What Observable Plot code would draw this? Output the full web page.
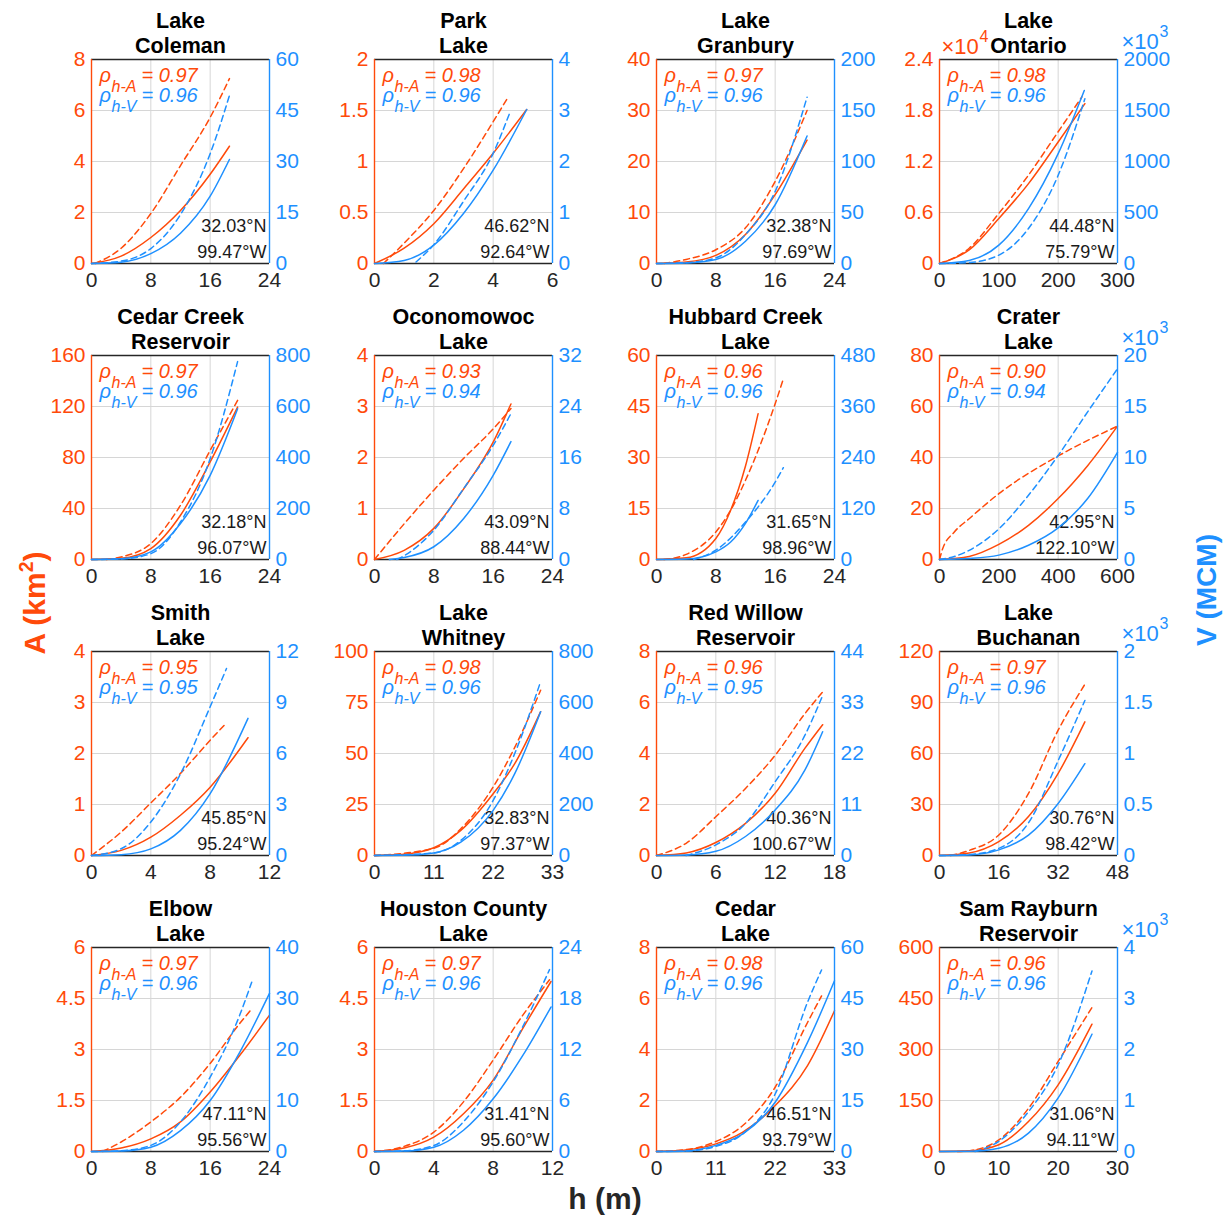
<!DOCTYPE html>
<html><head><meta charset="utf-8">
<script src="https://cdn.jsdelivr.net/npm/d3@7"></script>
<script src="https://cdn.jsdelivr.net/npm/@observablehq/plot@0.6"></script>
<style>
body{margin:0;background:#fff;}
#chart{position:relative;width:1224px;height:1217px;overflow:hidden;font-family:"Liberation Sans",Arial,sans-serif;background:#fff;}
#chart svg{position:absolute;}
.lab{position:absolute;font-weight:bold;white-space:nowrap;transform:translate(-50%,-50%);}
.rot{transform:translate(-50%,-50%) rotate(-90deg);}
</style></head><body><div id="chart"></div>
<script>
const lakeTitles = ["Lake\nColeman","Park\nLake","Lake\nGranbury","Lake\nOntario",
  "Cedar Creek\nReservoir","Oconomowoc\nLake","Hubbard Creek\nLake","Crater\nLake",
  "Smith\nLake","Lake\nWhitney","Red Willow\nReservoir","Lake\nBuchanan",
  "Elbow\nLake","Houston County\nLake","Cedar\nLake","Sam Rayburn\nReservoir"];
const latitudes = ["32.03°N","46.62°N","32.38°N","44.48°N","32.18°N","43.09°N","31.65°N","42.95°N",
  "45.85°N","32.83°N","40.36°N","30.76°N","47.11°N","31.41°N","46.51°N","31.06°N"];
const longitudes = ["99.47°W","92.64°W","97.69°W","75.79°W","96.07°W","88.44°W","98.96°W","122.10°W",
  "95.24°W","97.37°W","100.67°W","98.42°W","95.56°W","95.60°W","93.79°W","94.11°W"];
const rhoA = ["0.97","0.98","0.97","0.98","0.97","0.93","0.96","0.90","0.95","0.98","0.96","0.97","0.97","0.97","0.98","0.96"];
const rhoV = ["0.96","0.96","0.96","0.96","0.96","0.94","0.96","0.94","0.95","0.96","0.95","0.96","0.96","0.96","0.96","0.96"];
const xTicks = [[0,8,16,24],[0,2,4,6],[0,8,16,24],[0,100,200,300],
  [0,8,16,24],[0,8,16,24],[0,8,16,24],[0,200,400,600],
  [0,4,8,12],[0,11,22,33],[0,6,12,18],[0,16,32,48],
  [0,8,16,24],[0,4,8,12],[0,11,22,33],[0,10,20,30]];
const aTicks = [[0,2,4,6,8],[0,0.5,1,1.5,2],[0,10,20,30,40],[0,0.6,1.2,1.8,2.4],
  [0,40,80,120,160],[0,1,2,3,4],[0,15,30,45,60],[0,20,40,60,80],
  [0,1,2,3,4],[0,25,50,75,100],[0,2,4,6,8],[0,30,60,90,120],
  [0,1.5,3,4.5,6],[0,1.5,3,4.5,6],[0,2,4,6,8],[0,150,300,450,600]];
const vTicks = [[0,15,30,45,60],[0,1,2,3,4],[0,50,100,150,200],[0,500,1000,1500,2000],
  [0,200,400,600,800],[0,8,16,24,32],[0,120,240,360,480],[0,5,10,15,20],
  [0,3,6,9,12],[0,200,400,600,800],[0,11,22,33,44],[0,0.5,1,1.5,2],
  [0,10,20,30,40],[0,6,12,18,24],[0,15,30,45,60],[0,1,2,3,4]];
const aExponent = [null,null,null,"4",null,null,null,null,null,null,null,null,null,null,null,null];
const vExponent = [null,null,null,"3",null,null,null,"3",null,null,null,"3",null,null,null,"3"];

// [h (m), value] pairs
const areaSolid = [
  [[0,0],[4,0.29],[8,1.02],[12,2.08],[16,3.5],[18.6,4.6]],
  [[0,0],[1,0.15],[2,0.39],[3,0.73],[4,1.08],[5.13,1.51]],
  [[0,0],[4,0.3],[8,1.6],[12,5.7],[16,13.5],[20.3,24.2]],
  [[0,0],[50,0.16],[100,0.53],[150,0.94],[200,1.43],[245,1.88]],
  [[0,0],[4,1],[8,8.6],[12,34.7],[16,76.5],[19.7,119.5]],
  [[0,0],[4,0.18],[8,0.61],[12,1.38],[16,2.3],[18.4,3.05]],
  [[0,0],[4,0.5],[8,6.2],[10,14.5],[12,27.5],[13.7,42.9]],
  [[0,0],[100,1.2],[200,5.9],[300,13.4],[400,23.9],[500,36.9],[600,52.3]],
  [[0,0],[2,0.1],[4,0.36],[6,0.79],[8,1.34],[10.55,2.31]],
  [[0,0],[5,0.5],[11,3.8],[16,12.3],[22,30.3],[26,45],[30.8,70.5]],
  [[0,0],[3,0.1],[6,0.51],[9,1.26],[12,2.44],[15,4.2],[16.8,5.13]],
  [[0,0],[8,1.5],[16,8.2],[24,22.9],[32,48.3],[39.2,78.6]],
  [[0,0],[4,0.1],[8,0.37],[12,0.87],[16,1.75],[20,2.83],[24,4.01]],
  [[0,0],[2,0.1],[4,0.42],[6,1.11],[8,2.1],[10,3.62],[11.9,5.0]],
  [[0,0],[5,0.05],[11,0.3],[16,0.76],[22,1.8],[28,3.37],[33,5.52]],
  [[0,0],[5,2],[10,20],[15,88],[20,196],[25.7,374.5]]
];
const areaDashed = [
  [[0.5,0],[4,0.6],[8,1.96],[12,3.84],[16,5.73],[18.6,7.25]],
  [[0.3,0],[1,0.2],[2,0.52],[3,0.93],[4,1.39],[4.48,1.62]],
  [[1,0],[4,0.8],[8,2.7],[12,7.0],[16,16.1],[20.3,30.0]],
  [[0,0],[50,0.18],[100,0.59],[150,1.04],[200,1.55],[240,1.96]],
  [[2,0],[4,2],[8,12.5],[12,42.5],[16,85.6],[19.7,124.8]],
  [[0,0],[4,0.7],[8,1.36],[12,1.98],[16,2.56],[18.4,2.96]],
  [[1,0],[4,1.5],[8,8.1],[10,14.5],[12,23.3],[16,45.8],[17.1,53.1]],
  [[0,0],[10,4],[50,10.8],[100,16],[200,25.8],[400,40.6],[600,52.3]],
  [[0,0],[2,0.46],[4,1.03],[6,1.61],[8,2.26],[9.0,2.57]],
  [[0,0],[11,3.5],[16,13.1],[22,33.6],[26,53],[30.8,81]],
  [[0,0],[3,0.48],[6,1.52],[9,2.63],[12,3.93],[15,5.56],[16.8,6.41]],
  [[3,0],[8,3],[16,12.1],[24,36.5],[32,73.7],[39.2,100.7]],
  [[1.5,0],[4,0.28],[8,0.87],[12,1.6],[16,2.59],[20,3.77],[21.6,4.19]],
  [[0,0],[2,0.15],[4,0.57],[6,1.46],[8,2.69],[10,4.01],[11.8,5.05]],
  [[0,0],[5,0.06],[11,0.39],[16,1.02],[22,2.52],[28,5.06],[30.6,6.1]],
  [[3,0],[6,5],[10,34],[15,127],[20,265],[25.7,423.5]]
];
const volumeSolid = [
  [[0,0],[4,0.4],[8,2.9],[12,8.9],[16,19.8],[18.6,30.6]],
  [[0,0],[1,0.06],[2,0.36],[3,0.98],[4,1.83],[5.13,3.02]],
  [[0,0],[4,0.5],[8,3.9],[12,21.8],[16,57.6],[20.3,125]],
  [[0,0],[50,30],[100,180],[150,538],[200,1077],[244,1697]],
  [[0,0],[4,3],[8,30],[12,141],[16,330],[19.7,591]],
  [[2,0],[4,0.3],[8,2.0],[12,6.4],[16,13.2],[18.4,18.5]],
  [[0,0],[4,1],[8,18],[10,41],[12,85],[13.7,139]],
  [[0,0],[100,0.1],[200,0.43],[300,1.4],[400,3.1],[500,6.0],[600,10.5]],
  [[0,0],[2,0.05],[4,0.39],[6,1.48],[8,3.64],[10.55,8.07]],
  [[0,0],[5,0.5],[11,10],[16,52],[22,177],[26,321],[30.8,564]],
  [[0,0],[3,0.1],[6,0.9],[9,4.1],[12,9.8],[15,18.4],[16.8,26.7]],
  [[0,0],[8,0.005],[16,0.055],[24,0.2],[32,0.51],[39.2,0.9]],
  [[0,0],[4,0.1],[8,0.85],[12,4.1],[16,10],[20,19.5],[24,31]],
  [[0,0],[2,0.05],[4,0.5],[6,2.5],[8,6.2],[10,11.3],[11.9,17.0]],
  [[0,0],[5,0.1],[11,1.8],[16,5.2],[22,14.5],[28,32.1],[33,50.2]],
  [[0,0],[5,0.005],[10,0.065],[15,0.36],[20,1.05],[25.7,2.3]]
];
const volumeDashed = [
  [[0,0],[4,0.7],[8,4.4],[12,14.4],[16,32.3],[18.6,49.4]],
  [[1.4,0.03],[2,0.37],[3,1.22],[4,2.16],[4.55,2.94]],
  [[0,0],[4,0.8],[8,5.5],[12,28.3],[16,70.6],[20.3,163]],
  [[0,0],[50,10],[100,82],[150,343],[200,865],[245,1615]],
  [[0,0],[4,2],[8,23],[12,147],[16,395],[19.7,776]],
  [[3,0],[4,0.6],[8,4.6],[12,11.1],[16,17.9],[18.4,22.9]],
  [[5,0],[8,22],[12,88],[16,182],[17.1,216]],
  [[0,0],[50,0.3],[100,0.9],[200,3.0],[300,6.3],[400,10.2],[500,14.5],[600,18.7]],
  [[0,0],[2,0.4],[4,1.97],[6,4.8],[8,8.75],[9.1,11.0]],
  [[0,0],[11,10],[16,59],[22,216],[26,400],[30.8,682]],
  [[3,0],[6,2.3],[9,6.9],[12,15.9],[15,25.9],[16.8,34.5]],
  [[0,0],[8,0.01],[16,0.07],[24,0.32],[32,0.93],[39.2,1.52]],
  [[0,0],[4,0.15],[8,1.2],[12,5.8],[16,14.6],[20,26.8],[21.6,33.2]],
  [[0,0],[2,0.08],[4,0.7],[6,3.5],[8,8.2],[10,14.7],[11.8,21.4]],
  [[0,0],[5,0.1],[11,1.5],[16,5.2],[22,16.9],[28,43.9],[30.6,53.4]],
  [[6,0],[10,0.2],[15,0.78],[20,1.7],[25.7,3.54]]
];

const ORANGE = "#FF4A0A", BLUE = "#1E90FF", INK = "#262626", GRID = "#d6d6d6";
const FONT = "'Liberation Sans', Arial, sans-serif";
const colLeft = [91, 374, 656, 939], rowTop = [59, 355, 651, 947];
const W = 178, H = 204, ML = 62, MR = 62, MT = 64, MB = 38;
const chart = document.getElementById("chart");
const fmt = d => String(d);
const hx = d => d[0], vy = d => d[1];

function place(svg, left, top) {
  svg.style.left = left + "px"; svg.style.top = top + "px";
  chart.appendChild(svg);
}

for (let i = 0; i < 16; i++) {
  const r = Math.floor(i / 4), c = i % 4;
  const left = colLeft[c] - ML, top = rowTop[r] - MT;
  const xMax = xTicks[i][xTicks[i].length - 1];
  const aMax = aTicks[i][4], vMax = vTicks[i][4];
  const common = {
    width: W + ML + MR, height: H + MT + MB,
    marginLeft: ML, marginRight: MR, marginTop: MT, marginBottom: MB,
    style: {fontFamily: FONT, background: "transparent", overflow: "visible"}
  };
  const txt = (s, o) => Plot.text([s], {text: d => d, lineAnchor: "bottom", ...o});

  const marksA = [
    Plot.gridX({ticks: xTicks[i], stroke: GRID, strokeOpacity: 1}),
    Plot.gridY({ticks: aTicks[i], stroke: GRID, strokeOpacity: 1}),
    Plot.ruleY([0], {stroke: INK, strokeWidth: 1.3}),
    Plot.ruleY([aMax], {stroke: INK, strokeWidth: 1.3}),
    Plot.ruleX([0], {stroke: ORANGE, strokeWidth: 1.4}),
    Plot.line(areaDashed[i], {x: hx, y: vy, stroke: ORANGE, strokeWidth: 1.5, strokeDasharray: "6,4", curve: "monotone-x"}),
    Plot.line(areaSolid[i], {x: hx, y: vy, stroke: ORANGE, strokeWidth: 1.5, curve: "monotone-x"}),
    Plot.axisX({ticks: xTicks[i], tickFormat: fmt, tickSize: 0, tickPadding: 9, fontSize: 21, color: INK, label: null}),
    Plot.axisY({anchor: "left", ticks: aTicks[i], tickFormat: fmt, tickSize: 0, tickPadding: 6, fontSize: 21, color: ORANGE, label: null}),
    txt(lakeTitles[i], {frameAnchor: "top", dy: -7, fontSize: 21.5, fontWeight: "bold", lineHeight: 1.13, fill: "#000"}),
    txt("ρ", {frameAnchor: "top-left", dx: 8, dy: 22, textAnchor: "start", fontSize: 20, fontStyle: "italic", fill: ORANGE}),
    txt("h-A", {frameAnchor: "top-left", dx: 20, dy: 32, textAnchor: "start", fontSize: 16, fontStyle: "italic", fill: ORANGE}),
    txt("= " + rhoA[i], {frameAnchor: "top-left", dx: 50, dy: 22, textAnchor: "start", fontSize: 20, fontStyle: "italic", fill: ORANGE}),
    txt("ρ", {frameAnchor: "top-left", dx: 8, dy: 42, textAnchor: "start", fontSize: 20, fontStyle: "italic", fill: BLUE}),
    txt("h-V", {frameAnchor: "top-left", dx: 20, dy: 52, textAnchor: "start", fontSize: 16, fontStyle: "italic", fill: BLUE}),
    txt("= " + rhoV[i], {frameAnchor: "top-left", dx: 50, dy: 42, textAnchor: "start", fontSize: 20, fontStyle: "italic", fill: BLUE}),
    txt(latitudes[i] + "\n" + longitudes[i], {frameAnchor: "bottom-right", dx: -3, dy: -6, textAnchor: "end", fontSize: 18, lineHeight: 1.39, fill: "#1a1a1a"})
  ];
  if (aExponent[i]) {
    marksA.push(txt("×10", {frameAnchor: "top-left", dx: 2, dy: -6, textAnchor: "start", fontSize: 22, fill: ORANGE}));
    marksA.push(txt(aExponent[i], {frameAnchor: "top-left", dx: 40, dy: -18, textAnchor: "start", fontSize: 16, fill: ORANGE}));
  }
  const svgA = Plot.plot({...common,
    x: {domain: [0, xMax], axis: null}, y: {domain: [0, aMax], axis: null}, marks: marksA});

  const marksV = [
    Plot.ruleX([xMax], {stroke: BLUE, strokeWidth: 1.4}),
    Plot.line(volumeDashed[i], {x: hx, y: vy, stroke: BLUE, strokeWidth: 1.5, strokeDasharray: "6,4", curve: "monotone-x"}),
    Plot.line(volumeSolid[i], {x: hx, y: vy, stroke: BLUE, strokeWidth: 1.5, curve: "monotone-x"}),
    Plot.axisY({anchor: "right", ticks: vTicks[i], tickFormat: fmt, tickSize: 0, tickPadding: 6, fontSize: 21, color: BLUE, label: null})
  ];
  if (vExponent[i]) {
    marksV.push(txt("×10", {frameAnchor: "top-right", dx: 4, dy: -11, textAnchor: "start", fontSize: 22, fill: BLUE}));
    marksV.push(txt(vExponent[i], {frameAnchor: "top-right", dx: 42, dy: -23, textAnchor: "start", fontSize: 16, fill: BLUE}));
  }
  const svgV = Plot.plot({...common,
    x: {domain: [0, xMax], axis: null}, y: {domain: [0, vMax], axis: null}, marks: marksV});

  place(svgA, left, top);
  place(svgV, left, top);
}

function label(html, x, y, color, size, rotate) {
  const d = document.createElement("div");
  d.className = "lab" + (rotate ? " rot" : "");
  d.innerHTML = html;
  d.style.left = x + "px"; d.style.top = y + "px";
  d.style.color = color; d.style.fontSize = size + "px";
  chart.appendChild(d);
}
label("A (km<sup style='font-size:0.65em;vertical-align:0.6em;line-height:0'>2</sup>)", 35, 603, ORANGE, 30, true);
label("V (MCM)", 1207, 590, BLUE, 28, true);
label("h (m)", 605, 1199, "#262626", 30, false);
</script></body></html>
